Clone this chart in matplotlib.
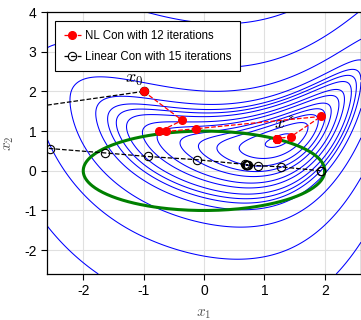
import numpy as np
import matplotlib
matplotlib.use("Agg")
import matplotlib.pyplot as plt

plt.rcParams['font.family'] = ['Liberation Sans', 'DejaVu Sans']
plt.rcParams['mathtext.fontset'] = 'cm'
plt.rcParams['axes.unicode_minus'] = False

# objective parameters: h(x1) along the valley, valley curve g(x1), band weight
m1 = 1.24
a2, a3, a4 = 0.40, 0.219, 0.0501
g0, g1, g2, g3, g4 = 0.6, -0.1766, 0.2015, 0.030, 0.00505
beta_mid, beta_skew = 1.0, 0.3
levels = [0.018, 0.12, 0.24, 0.35, 0.471, 0.659, 0.822, 1.059, 1.258, 1.463, 1.808, 2.896, 5.606, 13.0]

# iterates
nl_x1 = [-1.0, -0.36, -0.74, -0.63, -0.13, 1.94, 1.44, 1.21, 1.21, 1.21, 1.21, 1.21, 1.21]
nl_x2 = [2.0, 1.27, 0.99, 0.99, 1.06, 1.37, 0.86, 0.81, 0.81, 0.81, 0.81, 0.81, 0.81]
lin_x1 = [-1.0, -4.0, -2.55, -1.64, -0.93, -0.12, 0.68, 0.70, 0.71, 0.72, 0.73, 0.70, 0.89, 1.27, 1.93, 1.93]
lin_x2 = [2.0, 1.35, 0.56, 0.45, 0.36, 0.28, 0.16, 0.155, 0.15, 0.15, 0.148, 0.15, 0.13, 0.10, 0.0, 0.0]


def f(x1, x2):
    d = x1 - m1
    h = a2 * d**2 + a3 * d**3 + a4 * d**4
    g = g0 + g1 * x1 + g2 * x1**2 + g3 * x1**3 + g4 * x1**4
    r = x2 - g
    return h + (beta_mid + beta_skew * np.tanh(2 * r)) * r**2


x1g, x2g = np.meshgrid(np.linspace(-2.6, 2.6, 400), np.linspace(-2.6, 4, 400))
Z = f(x1g, x2g)

fig = plt.figure(figsize=(3.61, 3.2), dpi=100)
ax = fig.add_axes([47/361, 46/320, 314/361, 262/320])
ax.contour(x1g, x2g, Z, levels=levels, colors='blue', linewidths=0.75)

# constraint x1^2/4 + x2^2 = 1
t = np.linspace(0, 2*np.pi, 300)
ax.plot(2*np.cos(t), np.sin(t), color='green', lw=2.2)

ax.plot(lin_x1, lin_x2, 'k--', marker='o', mfc='none', mec='k', ms=6, mew=0.8, lw=0.9,
        label='Linear Con with 15 iterations', zorder=4)
ax.plot(nl_x1, nl_x2, '--', color='red', marker='o', mfc='red', mec='red', ms=5.5, lw=0.9,
        label='NL Con with 12 iterations', zorder=5)

ax.text(-1.15, 2.3, '$x_0$', fontsize=13, ha='center', va='center')
ax.text(1.33, 1.15, '$x^*$', fontsize=13, ha='center', va='center')

ax.set_xlim(-2.6, 2.6)
ax.set_ylim(-2.6, 4)
ax.set_xticks([-2, -1, 0, 1, 2])
ax.set_yticks([-2, -1, 0, 1, 2, 3, 4])
ax.tick_params(labelsize=10, direction='out', length=4, width=0.8)
ax.grid(True, color='#e0e0e0', lw=0.8)
ax.set_axisbelow(True)
for s in ax.spines.values():
    s.set_linewidth(0.9)
ax.set_xlabel('$x_1$', fontsize=11, color='#555555', labelpad=6)
ax.set_ylabel('$x_2$', fontsize=11, color='#555555', labelpad=6)

h, l = ax.get_legend_handles_labels()
leg = ax.legend(h[::-1], l[::-1], loc='upper left', bbox_to_anchor=(0.0255, 0.966), borderaxespad=0,
                fontsize=8.3, fancybox=False, edgecolor='black', framealpha=1, handlelength=1.5,
                handletextpad=0.35, borderpad=0.75, labelspacing=0.8)
leg.get_frame().set_linewidth(0.8)

fig.savefig('out.png', dpi=100)
